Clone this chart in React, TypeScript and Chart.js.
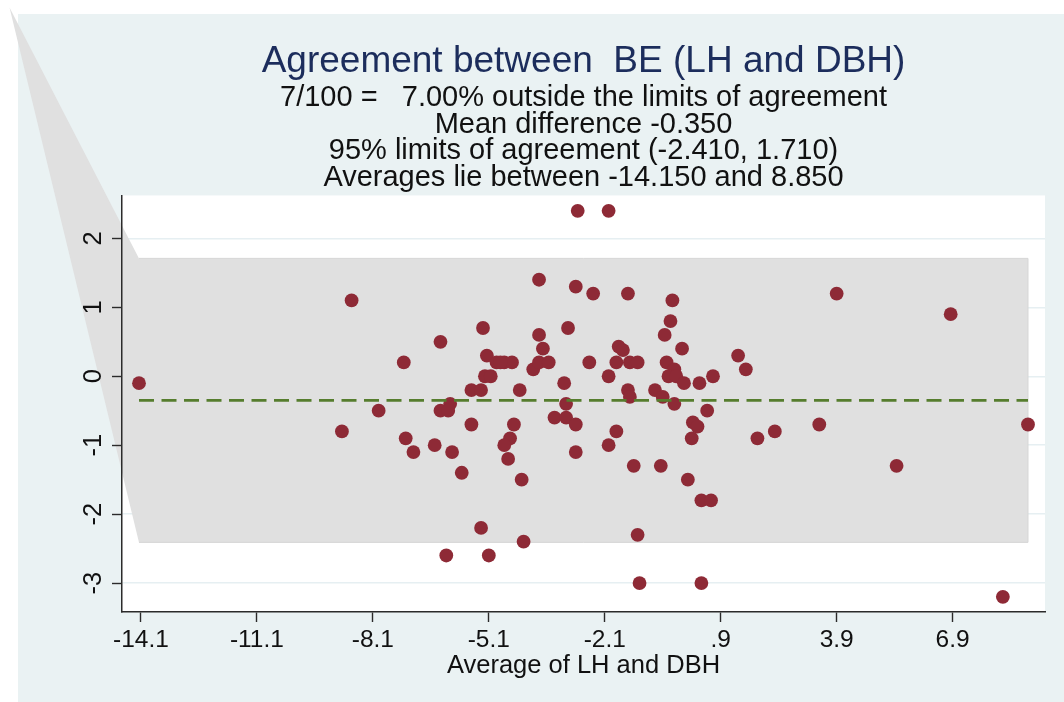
import React, { useEffect, useRef } from 'react';
import { Chart, registerables } from 'chart.js';

Chart.register(...registerables);

// Average of LH and DBH (x) for each subject
const averages = [
  -2.8, -2.0, -3.8, -2.85, -2.4, -1.5, -0.35, -0.4, -0.55, -5.25,
  -3.8, -3.05, -6.35, -3.7, -0.1, -1.74, -1.63, -7.3, -5.15, -4.9,
  -4.7, -4.5, -5.2, -5.05, -3.95, -3.8, -3.55, -2.5, -1.8, -1.45,
  -1.25, -2.0, -3.15, -0.5, -0.3, -0.45, -0.25, -0.05, 0.35, 0.7,
  -5.55, -5.3, -4.3, -1.5, -1.45, -0.8, -0.6, -0.3, -3.1, -6.1,
  -6.35, -6.15, -7.95, -3.4, -3.1, -2.85, -5.55, -4.45, 0.18, 0.3,
  0.15, 0.55, -1.8, -2.0, -2.85, -7.25, -7.05, -6.5, -6.05, -5.8,
  -4.55, -4.7, -4.6, -4.25, -1.35, -0.65, 0.05, 0.4, 0.65, -5.3,
  -4.2, -1.25, -6.2, -5.1, -1.2, 0.4, 3.9, 6.85, 1.35, 1.55,
  1.85, 2.3, 3.45, 8.85, 5.45, 8.2, -14.15, -8.65, -8.9, -4.8,
];

// Difference (LH - DBH) for each subject
const differences = [
  2.4, 2.4, 1.4, 1.3, 1.2, 1.2, 1.1, 0.8, 0.6, 0.7,
  0.6, 0.7, 0.5, 0.4, 0.4, 0.43, 0.38, 0.2, 0.3, 0.2,
  0.2, 0.2, 0.0, 0.0, 0.1, 0.2, 0.2, 0.2, 0.2, 0.2,
  0.2, 0.0, -0.1, 0.2, 0.1, 0.0, 0.0, -0.1, -0.1, 0.0,
  -0.2, -0.2, -0.2, -0.2, -0.3, -0.2, -0.3, -0.4, -0.4, -0.4,
  -0.5, -0.5, -0.5, -0.6, -0.6, -0.7, -0.7, -0.7, -0.67, -0.73,
  -0.9, -0.5, -0.8, -1.0, -1.1, -0.9, -1.1, -1.0, -1.1, -1.4,
  -0.9, -1.0, -1.2, -1.5, -1.3, -1.3, -1.5, -1.8, -1.8, -2.2,
  -2.4, -2.3, -2.6, -2.6, -3.0, -3.0, 1.2, 0.9, 0.3, 0.1,
  -0.9, -0.8, -0.7, -0.7, -1.3, -3.2, -0.1, 1.1, -0.8, 0.2,
];

const meanDifference = -0.35;
const limitsOfAgreement = [-2.41, 1.71];
const averageRange = [-14.15, 8.85];
// stray vertex of the shaded limits polygon (data units)
const bandApex = [-17.5, 5.35];

const xTicks = [-14.1, -11.1, -8.1, -5.1, -2.1, 0.9, 3.9, 6.9];
const xTickLabels = ['-14.1', '-11.1', '-8.1', '-5.1', '-2.1', '.9', '3.9', '6.9'];
const yTicks = [-3, -2, -1, 0, 1, 2];
const yTickLabels = ['-3', '-2', '-1', '0', '1', '2'];

const titleText = 'Agreement between  BE (LH and DBH)';
const subtitleLines = [
  '7/100 =   7.00% outside the limits of agreement',
  'Mean difference -0.350',
  '95% limits of agreement (-2.410, 1.710)',
  'Averages lie between -14.150 and 8.850',
];
const xAxisTitle = 'Average of LH and DBH';

const FONT = '"Liberation Sans", Arial, Helvetica, sans-serif';

const backgroundPlugin = {
  id: 'stataBackground',
  beforeDraw(chart: any) {
    const { ctx, width, height, chartArea } = chart;
    ctx.save();
    ctx.fillStyle = '#ffffff';
    ctx.fillRect(0, 0, width, height);
    ctx.fillStyle = '#eaf2f3';
    ctx.fillRect(18, 14, width - 18, height - 14);
    ctx.fillStyle = '#ffffff';
    ctx.fillRect(chartArea.left, chartArea.top, chartArea.right - chartArea.left, chartArea.bottom - chartArea.top);
    ctx.restore();
  },
  beforeDatasetsDraw(chart: any) {
    const { ctx } = chart;
    const xs = chart.scales.x;
    const ys = chart.scales.y;
    const x0 = xs.getPixelForValue(averageRange[0]);
    const x1 = xs.getPixelForValue(averageRange[1]);
    const yTop = ys.getPixelForValue(limitsOfAgreement[1]);
    const yBot = ys.getPixelForValue(limitsOfAgreement[0]);
    const ax = xs.getPixelForValue(bandApex[0]);
    const ay = ys.getPixelForValue(bandApex[1]);
    ctx.save();
    ctx.beginPath();
    ctx.moveTo(ax, ay);
    ctx.lineTo(x0, yTop);
    ctx.lineTo(x1, yTop);
    ctx.lineTo(x1, yBot);
    ctx.lineTo(x0, yBot);
    ctx.closePath();
    ctx.fillStyle = '#e0e0e0';
    ctx.fill();
    ctx.strokeStyle = '#d6d6d6';
    ctx.lineWidth = 1;
    ctx.beginPath();
    ctx.moveTo(x0, yTop);
    ctx.lineTo(x1, yTop);
    ctx.lineTo(x1, yBot);
    ctx.lineTo(x0, yBot);
    ctx.stroke();
    // y tick marks on top of the shading
    ctx.strokeStyle = '#2b2b2b';
    ctx.lineWidth = 1.4;
    for (const t of yTicks) {
      const py = Math.round(ys.getPixelForValue(t)) + 0.5;
      ctx.beginPath();
      ctx.moveTo(ys.right - 10, py);
      ctx.lineTo(ys.right, py);
      ctx.stroke();
    }
    ctx.restore();
  },
};

export default function App() {
  const canvasRef = useRef<HTMLCanvasElement>(null);

  useEffect(() => {
    document.body.style.margin = '0';
    const canvas = canvasRef.current;
    if (!canvas) return;
    Chart.defaults.font.family = FONT;

    const points = averages.map((a, i) => ({ x: a, y: differences[i] }));

    const chart = new Chart(canvas, {
      type: 'scatter',
      data: {
        datasets: [
          {
            type: 'line',
            label: 'Mean difference',
            data: [
              { x: averageRange[0], y: meanDifference },
              { x: averageRange[1], y: meanDifference },
            ],
            showLine: true,
            borderColor: '#567d2e',
            borderWidth: 2.6,
            borderDash: [15, 7.5],
            pointRadius: 0,
            fill: false,
          } as any,
          {
            label: 'Difference',
            data: points,
            backgroundColor: '#8e2a36',
            borderWidth: 0,
            pointRadius: 6.9,
            pointHoverRadius: 6.9,
          },
        ],
      },
      options: {
        responsive: false,
        animation: false,
        devicePixelRatio: 1,
        events: [],
        layout: { padding: { left: 0, right: 19, top: 0, bottom: 0 } },
        plugins: {
          legend: { display: false },
          tooltip: { enabled: false },
          title: {
            display: true,
            text: titleText,
            fullSize: false,
            color: '#1c2d5c',
            font: { size: 37, weight: 'normal', lineHeight: 1.2 },
            padding: { top: 40, bottom: 0.4 },
          },
          subtitle: {
            display: true,
            text: subtitleLines,
            fullSize: false,
            color: '#111111',
            font: { size: 29, weight: 'normal', lineHeight: 0.915 },
            padding: { top: 0, bottom: 4.5 },
          },
        },
        scales: {
          x: {
            type: 'linear',
            min: -14.59,
            max: 9.29,
            afterBuildTicks: (scale: any) => {
              scale.ticks = xTicks.map((v) => ({ value: v }));
            },
            afterFit: (scale: any) => {
              scale.height = 90;
            },
            ticks: {
              autoSkip: false,
              maxRotation: 0,
              minRotation: 0,
              padding: 4,
              color: '#111111',
              font: { size: 24.5 },
              callback: (v: any) => {
                const i = xTicks.findIndex((t) => Math.abs(t - Number(v)) < 1e-6);
                return i >= 0 ? xTickLabels[i] : '';
              },
            },
            grid: {
              drawOnChartArea: false,
              drawTicks: true,
              tickLength: 10,
              tickColor: '#2b2b2b',
              tickWidth: 1.4,
            },
            border: { display: true, color: '#2b2b2b', width: 1.5, z: 1 },
            title: {
              display: true,
              text: xAxisTitle,
              color: '#111111',
              font: { size: 25.5 },
              padding: { top: 0, bottom: 21 },
            },
          },
          y: {
            type: 'linear',
            min: -3.42,
            max: 2.623,
            afterBuildTicks: (scale: any) => {
              scale.ticks = yTicks.map((v) => ({ value: v }));
            },
            afterFit: (scale: any) => {
              scale.width = 122;
            },
            ticks: {
              autoSkip: false,
              minRotation: 90,
              maxRotation: 90,
              crossAlign: 'center',
              padding: 7,
              color: '#111111',
              font: { size: 25.5 },
              z: 1,
              callback: (v: any) => {
                const i = yTicks.findIndex((t) => Math.abs(t - Number(v)) < 1e-6);
                return i >= 0 ? yTickLabels[i] : '';
              },
            },
            grid: {
              drawOnChartArea: true,
              drawTicks: true,
              tickLength: 10,
              color: '#e6eff2',
              lineWidth: 1.5,
              tickColor: 'rgba(0,0,0,0)',
            },
            border: { display: true, color: '#2b2b2b', width: 1.5, z: 1 },
          },
        },
      } as any,
      plugins: [backgroundPlugin],
    });

    return () => chart.destroy();
  }, []);

  return (
    <div style={{ width: 1064, height: 702 }}>
      <canvas ref={canvasRef} width={1064} height={702} style={{ display: 'block' }} />
    </div>
  );
}
